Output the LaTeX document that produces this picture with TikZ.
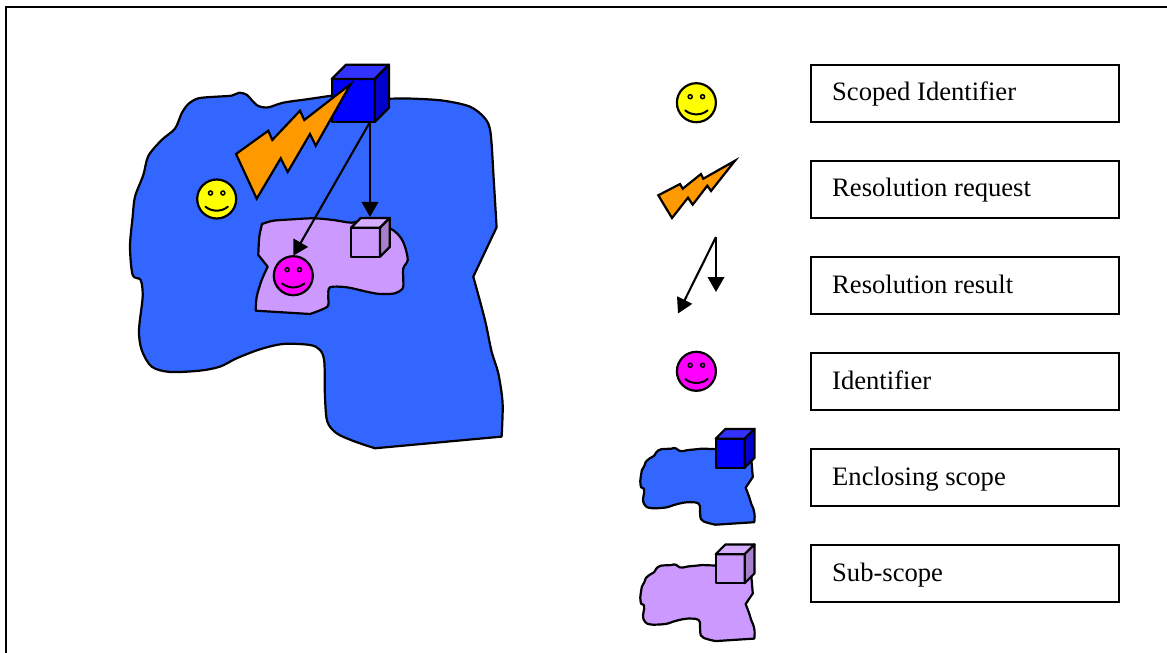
\documentclass[tikz,border=0pt]{standalone}
\usepackage{fontspec}
\setmainfont{Liberation Serif}
\usetikzlibrary{arrows.meta}
\definecolor{scopeblue}{HTML}{3366FF}
\definecolor{subpurple}{HTML}{CC99FF}
\definecolor{subtop}{HTML}{D6ADFF}
\definecolor{subside}{HTML}{A97FCC}
\definecolor{cubeblue}{HTML}{0000FF}
\definecolor{cubetopblue}{HTML}{3333FF}
\definecolor{cubesideblue}{HTML}{0000CC}
\definecolor{boltorange}{HTML}{FF9900}
\definecolor{faceyellow}{HTML}{FFFF00}
\definecolor{facemagenta}{HTML}{FF00FF}
\tikzset{
  ol/.style={draw=black,line width=2.2bp,line join=round},
  labelbox/.style={draw=black,line width=2bp,fill=white,minimum width=307.5bp,minimum height=57bp,inner sep=0pt,outer sep=0pt},
  labeltext/.style={anchor=base west,inner sep=0pt,font=\fontsize{26.6bp}{30bp}\selectfont},
  resarrow/.style={draw=black,line width=2.1bp,-{Triangle[length=15bp,width=16.5bp]}},
}
% blob outline, in coordinates of a 3x view; sharp corners split the smooth runs
\newcommand{\blobpath}{
 plot[smooth,tension=0.5] coordinates {
 (810,146)(880,146)(970,152)(1050,170)(1095,205)(1112,250)(1122,400)(1130,532)}
 -- (1060,680) --
 plot[smooth,tension=0.5] coordinates {
 (1060,680)(1095,810)(1115,905)(1135,970)(1148,1060)(1145,1160)}
 -- (765,1195) --
 plot[smooth,tension=0.5] coordinates {
 (765,1195)(700,1173)(650,1150)(622,1115)(615,1040)(613,935)(600,900)(570,885)(490,882)(420,898)(350,925)(300,950)(240,962)(150,966)(95,950)(65,900)(57,840)(68,740)(62,690)(38,675)(30,590)(38,500)(45,440)(70,375)(85,318)(125,270)(165,236)(185,190)(205,162)(235,145)(290,140)(335,137)(358,128)(380,134)(395,150)(415,168)(445,172)(490,158)(560,148)(635,137)}
 -- cycle}
\newcommand{\smileyface}[3]{% center x, y, fill
 \begin{scope}[shift={(#1,#2)}]
  \path[ol,fill=#3] (0,0) circle (19.5);
  \draw[line width=1.5bp] (-6.2,-6) circle (2) (6.2,-6) circle (2);
  \draw[line width=2bp,line cap=round] (-11.2,7.7) .. controls (-5,13) and (5,13) .. (11.2,7.7);
 \end{scope}}
\newcommand{\cubeshape}[7]{% left x, top y of front, size, depth, front, top, side
 \begin{scope}[shift={(#1,#2)}]
  \path[ol,fill=#5] (0,0) rectangle (#3,#3);
  \path[ol,fill=#6] (0,0) -- (#4,-#4) -- (#3+#4,-#4) -- (#3,0) -- cycle;
  \path[ol,fill=#7] (#3,0) -- (#3+#4,-#4) -- (#3+#4,#3-#4) -- (#3,#3) -- cycle;
 \end{scope}}
\begin{document}
\begin{tikzpicture}[x=1bp,y=-1bp]
\useasboundingbox (0,0) rectangle (1167,653);
% frame: only left and top edges are visible
\draw[line width=2bp] (5.6,653) -- (5.6,7) -- (1167,7);
% main blob
\begin{scope}[shift={(120,50)},x=0.3333bp,y=-0.3333bp]
 \path[ol,fill=scopeblue] \blobpath;
\end{scope}
% sub-scope blob
\path[ol,fill=subpurple] plot[smooth,tension=0.5] coordinates {
 (262,224)(273.3,220.7)(293.3,219.3)(313.3,218.3)(333.3,220)(351.7,222.7)(366.7,220)(390,228.3)(400,236.7)(405,246.7)(407.7,260)(403.3,268.3)(403.3,280)(402.7,288.3)(395,293.3)(380,294)(366.7,291.7)(346.7,287.3)(330,287.3)(328.3,296.7)(327.3,306.7)(310,314)}
 -- (255.7,310.7) --
 plot[smooth,tension=0.5] coordinates {(255.7,310.7)(256.7,296.7)(261.7,280)(267.7,266.7)}
 -- (258.3,255) --
 plot[smooth,tension=0.5] coordinates {(258.3,255)(259.3,236.7)(262,224)}
 -- cycle;
\node[inner sep=0pt,minimum size=0pt] (cubeA) at (370,122) {};
\cubeshape{331.7}{79}{43}{14.3}{cubeblue}{cubetopblue}{cubesideblue}
% bolt
\path[ol,fill=boltorange,line join=miter] (350.7,84) -- (315.7,145.7) -- (310,134) -- (287.7,172) -- (280.7,158.3) -- (256.7,198.7) -- (236,154) -- (268.3,130.7) -- (272.3,140) -- (300,110.7) -- (304.3,120) -- cycle;
\smileyface{216.7}{199}{faceyellow}
\smileyface{293.3}{275.7}{facemagenta}
\cubeshape{351}{227.7}{29}{9.8}{subpurple}{subtop}{subside}
\coordinate (cubetip) at (370,217);
\coordinate (facetip) at (293.3,255.7);
\draw[resarrow] (cubeA.center) -- (cubetip);
\draw[resarrow] (cubeA.center) -- (facetip);
% legend
\node[labelbox] (b1) at (965.2,93.5) {};
\node[labelbox] (b2) at (965.2,189.5) {};
\node[labelbox] (b3) at (965.2,285.5) {};
\node[labelbox] (b4) at (965.2,381.5) {};
\node[labelbox] (b5) at (965.2,477.5) {};
\node[labelbox] (b6) at (965.2,573.5) {};
\node[labeltext] (t1) at (832,101) {Scoped Identifier};
\node[labeltext] (t2) at (832,197) {Resolution request};
\node[labeltext] (t3) at (832,293) {Resolution result};
\node[labeltext] (t4) at (832,389) {Identifier};
\node[labeltext] (t5) at (832,485) {Enclosing scope};
\node[labeltext] (t6) at (832,581) {Sub-scope};
\smileyface{696.4}{102.7}{faceyellow}
\smileyface{696.4}{371.3}{facemagenta}
\path[ol,fill=boltorange,line join=miter] (735,160.7) -- (711,191) -- (707.3,185.7) -- (692.7,204.7) -- (688,197.7) -- (672,218) -- (658.3,195.3) -- (680,184) -- (682.7,188.7) -- (701,174) -- (703.3,178.7) -- cycle;
\coordinate (la) at (716,237);
\coordinate (lb) at (716,292);
\coordinate (lc) at (678,313.5);
\draw[resarrow] (la) -- (lb);
\draw[resarrow] (la) -- (lc);
\begin{scope}[shift={(637.2,438.8)},x=0.1023bp,y=-0.0719bp]
 \path[ol,fill=scopeblue] \blobpath;
\end{scope}
\cubeshape{715.7}{438.7}{29}{9.8}{cubeblue}{cubetopblue}{cubesideblue}
\begin{scope}[shift={(637.2,555.2)},x=0.1023bp,y=-0.0719bp]
 \path[ol,fill=subpurple] \blobpath;
\end{scope}
\cubeshape{715.7}{554.2}{29}{9.8}{subpurple}{subtop}{subside}
\end{tikzpicture}
\end{document}
